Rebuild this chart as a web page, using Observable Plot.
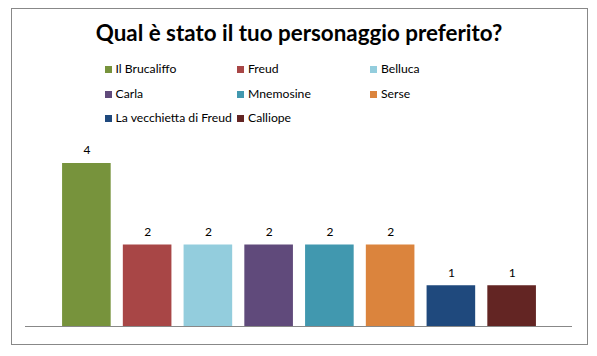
<!DOCTYPE html>
<html>
<head>
<meta charset="utf-8">
<script src="https://cdn.jsdelivr.net/npm/d3@7"></script>
<script src="https://cdn.jsdelivr.net/npm/@observablehq/plot@0.6"></script>
<style>
  html, body { margin: 0; padding: 0; background: #fff; }
  #chart { position: relative; width: 597px; height: 356px; font-family: Lato, "Open Sans", sans-serif; }
  #frame { position: absolute; left: 11px; top: 8px; width: 575px; height: 335px; border: 1px solid #888; box-sizing: content-box; pointer-events: none; }
  #title { position: absolute; left: 0; width: 598px; top: 22px; text-align: center; font-weight: bold; font-size: 22.4px; line-height: 22.4px; color: #000; white-space: nowrap; }
  #legend { position: absolute; left: 0; top: 0; }
  .item { position: absolute; font-size: 12.2px; color: #000; white-space: nowrap; line-height: 14px; }
  .sw { display: inline-block; width: 7px; height: 7px; margin-right: 4px; vertical-align: 0px; }
  #plot { position: absolute; left: 0; top: 0; }
</style>
</head>
<body>
<div id="chart">
  <div id="plot"></div>
  <div id="title">Qual è stato il tuo personaggio preferito?</div>
  <div id="legend"></div>
  <div id="frame"></div>
</div>
<script>
const categories = ["Il Brucaliffo", "Freud", "Belluca", "Carla", "Mnemosine", "Serse", "La vecchietta di Freud", "Calliope"];
const values = [4, 2, 2, 2, 2, 2, 1, 1];
const colors = ["#77933C", "#A84646", "#93CDDD", "#604A7B", "#4198AF", "#DB843D", "#1F497D", "#632523"];

const data = categories.map((c, i) => ({ name: c, value: values[i] }));

const chart = Plot.plot({
  width: 597,
  height: 356,
  marginTop: 163,
  marginBottom: 30,
  marginLeft: 25,
  marginRight: 25,
  style: { fontFamily: "Lato, 'Open Sans', sans-serif", background: "transparent", overflow: "visible" },
  x: { domain: categories, range: [56, 542], paddingInner: 0.2, paddingOuter: 0.1, round: false, axis: null },
  y: { domain: [0, 4], axis: null },
  color: { domain: categories, range: colors },
  marks: [
    Plot.barY(data, { x: "name", y: "value", fill: "name" }),
    Plot.ruleY([0], { stroke: "#888", strokeWidth: 1 }),
    Plot.text(data, { x: "name", y: "value", text: d => String(d.value), dy: -13, fontSize: 12, fill: "#000" })
  ]
});
document.getElementById("plot").appendChild(chart);

// legend: 3 columns
const legend = document.getElementById("legend");
const colX = [104.5, 237, 370];
const rowY = [69.3, 93.5, 117.7];
categories.forEach((c, i) => {
  const col = i % 3, row = Math.floor(i / 3);
  const el = document.createElement("div");
  el.className = "item";
  el.style.left = colX[col] + "px";
  el.style.top = (rowY[row] - 7) + "px";
  el.innerHTML = `<span class="sw" style="background:${colors[i]}"></span>${c}`;
  legend.appendChild(el);
});
</script>
</body>
</html>
